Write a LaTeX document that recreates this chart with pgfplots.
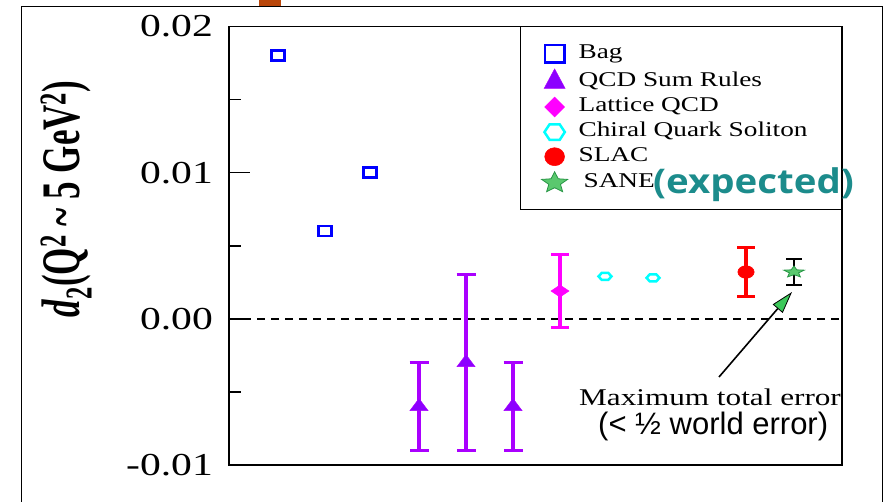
\documentclass[border=0pt]{standalone}
\usepackage{fontspec}
\setmainfont{Liberation Serif}[FakeStretch=1.3]
\newfontfamily\plainserif{Liberation Serif}
\newfontfamily\expfont{Open Sans}[FakeStretch=1.13]
\newfontfamily\sansplain{Liberation Sans}
\usepackage{pgfplots}
\pgfplotsset{compat=1.18}
\usetikzlibrary{arrows.meta}

\definecolor{bagblue}{RGB}{0,0,255}
\definecolor{qcdbar}{RGB}{170,0,255}
\definecolor{qcdfill}{RGB}{140,0,255}
\definecolor{latmag}{RGB}{255,0,255}
\definecolor{chicyan}{RGB}{0,255,255}
\definecolor{slacred}{RGB}{255,0,0}
\definecolor{sanefill}{RGB}{90,200,110}
\definecolor{saneedge}{RGB}{40,150,70}
\definecolor{arrowgreen}{RGB}{60,200,90}
\definecolor{expteal}{RGB}{28,140,140}
\definecolor{brownbar}{RGB}{185,70,10}

\pgfdeclareplotmark{hexa}{%
  \pgfpathmoveto{\pgfqpoint{\pgfplotmarksize}{0pt}}%
  \pgfpathlineto{\pgfqpoint{0.5\pgfplotmarksize}{0.866\pgfplotmarksize}}%
  \pgfpathlineto{\pgfqpoint{-0.5\pgfplotmarksize}{0.866\pgfplotmarksize}}%
  \pgfpathlineto{\pgfqpoint{-\pgfplotmarksize}{0pt}}%
  \pgfpathlineto{\pgfqpoint{-0.5\pgfplotmarksize}{-0.866\pgfplotmarksize}}%
  \pgfpathlineto{\pgfqpoint{0.5\pgfplotmarksize}{-0.866\pgfplotmarksize}}%
  \pgfpathclose\pgfusepathqstroke}

\pgfdeclareplotmark{fstar}{%
  \pgfpathmoveto{\pgfpointpolar{90}{\pgfplotmarksize}}%
  \pgfpathlineto{\pgfpointpolar{126}{0.45\pgfplotmarksize}}%
  \pgfpathlineto{\pgfpointpolar{162}{\pgfplotmarksize}}%
  \pgfpathlineto{\pgfpointpolar{198}{0.45\pgfplotmarksize}}%
  \pgfpathlineto{\pgfpointpolar{234}{\pgfplotmarksize}}%
  \pgfpathlineto{\pgfpointpolar{270}{0.45\pgfplotmarksize}}%
  \pgfpathlineto{\pgfpointpolar{306}{\pgfplotmarksize}}%
  \pgfpathlineto{\pgfpointpolar{342}{0.45\pgfplotmarksize}}%
  \pgfpathlineto{\pgfpointpolar{18}{\pgfplotmarksize}}%
  \pgfpathlineto{\pgfpointpolar{54}{0.45\pgfplotmarksize}}%
  \pgfpathclose\pgfusepathqfillstroke}

\begin{document}
\begin{tikzpicture}[x=1pt,y=1pt]
\useasboundingbox (0,0) rectangle (883,501);
\fill[brownbar] (259,494) rectangle (281,501);
\draw[line width=1pt] (21,-2) -- (21,494) -- (882,494) -- (882,-2);
\begin{axis}[
  at={(229pt,36pt)}, anchor=south west, scale only axis,
  width=613pt, height=438.6pt,
  xmin=0, xmax=613, ymin=-0.01, ymax=0.02,
  xtick=\empty,
  ytick={-0.01,0,0.01,0.02},
  yticklabels={-0.01,0.00,0.01,0.02},
  scaled y ticks=false,
  minor ytick={-0.005,0.005,0.015},
  tick align=inside, ytick pos=left,
  major tick length=21pt, minor tick length=12pt,
  tick style={line width=1.6pt, black},
  axis line style={line width=1.6pt},
  yticklabel style={font=\fontsize{32}{32}\selectfont, inner sep=0pt, xshift=-16pt},
  clip=false,
  only marks,
  legend style={at={(1,1)}, anchor=north east, draw=black, line width=0.8pt, fill=white,
    inner xsep=21pt, inner ysep=17.5pt, row sep=5.6pt, column sep=11pt,
    font=\fontsize{21}{21}\selectfont,
    nodes={inner sep=0pt, text height=14pt, text depth=5pt}},
  legend cell align=left,
]
\addplot[sharp plot, mark=none, black, line width=1.5pt, dash pattern=on 7.5pt off 6.5pt, forget plot]
  coordinates {(0,0) (613,0)};

\addplot[mark=square, mark size=5pt, mark options={draw=bagblue, line width=2.6pt, xscale=1.3},
  legend image code/.code={\draw[mark=square, mark size=8.7pt, mark options={draw=bagblue, line width=2.6pt, xscale=1.11}] plot coordinates {(0pt,0pt)};}]
  coordinates {(49,0.018) (96,0.006) (141,0.010)};
\addlegendentry{Bag}

\addplot[color=qcdbar, line width=3.2pt,
  mark=triangle*, mark size=8pt, mark options={fill=qcdfill, draw=qcdbar, line width=0.5pt, xscale=1.3},
  legend image code/.code={\draw[mark=triangle*, mark size=13pt, mark options={fill=qcdfill, draw=qcdbar, line width=0.5pt, xscale=0.93}] plot coordinates {(0pt,0pt)};},
  error bars/.cd, y dir=both, y explicit,
  error bar style={color=qcdbar, line width=3.2pt},
  error mark options={rotate=90, color=qcdbar, line width=3pt, mark size=9.5pt}]
  coordinates {(190,-0.006) +- (0,0.003) (237,-0.003) +- (0,0.006) (284,-0.006) +- (0,0.003)};
\addlegendentry{QCD Sum Rules}

\addplot[color=latmag, line width=3.2pt,
  mark=diamond*, mark size=6pt, mark options={fill=latmag, draw=latmag, line width=0.5pt, xscale=2},
  legend image code/.code={\draw[mark=diamond*, mark size=10pt, mark options={fill=latmag, draw=latmag, line width=0.5pt, xscale=1.33}] plot coordinates {(0pt,0pt)};},
  error bars/.cd, y dir=both, y explicit,
  error bar style={color=latmag, line width=3.2pt},
  error mark options={rotate=90, color=latmag, line width=3pt, mark size=9pt}]
  coordinates {(331,0.0019) +- (0,0.0025)};
\addlegendentry{Lattice QCD}

\addplot[mark=hexa, mark size=6.5pt, mark options={draw=chicyan, line width=2.5pt, yscale=0.62},
  legend image code/.code={\draw[mark=hexa, mark size=10.2pt, mark options={draw=chicyan, line width=2.5pt, yscale=0.87}] plot coordinates {(0pt,0pt)};}]
  coordinates {(376,0.0029) (424,0.0028)};
\addlegendentry{Chiral Quark Soliton\hspace*{13pt}}

\addplot[color=slacred, line width=3.2pt,
  mark=*, mark size=6.3pt, mark options={fill=slacred, draw=slacred, line width=0.5pt, xscale=1.3},
  legend image code/.code={\draw[mark=*, mark size=9pt, mark options={fill=slacred, draw=slacred, line width=0.5pt, xscale=1.1}] plot coordinates {(0pt,0pt)};},
  error bars/.cd, y dir=both, y explicit,
  error bar style={color=slacred, line width=3.2pt},
  error mark options={rotate=90, color=slacred, line width=3pt, mark size=9pt}]
  coordinates {(517,0.0032) +- (0,0.0017)};
\addlegendentry{SLAC}

\addplot[color=black, line width=1.6pt,
  mark=fstar, mark size=6pt, mark options={fill=sanefill, draw=saneedge, line width=0.8pt, xscale=1.8},
  legend image code/.code={\draw[mark=fstar, mark size=11pt, mark options={fill=sanefill, draw=saneedge, line width=0.8pt, xscale=1.24}] plot coordinates {(0pt,0pt)};},
  error bars/.cd, y dir=both, y explicit,
  error bar style={color=black, line width=1.6pt},
  error mark options={rotate=90, color=black, line width=1.6pt, mark size=8pt}]
  coordinates {(565,0.0032) +- (0,0.0009)};
\addlegendentry{\hspace*{5pt}SANE}
\end{axis}

\draw[line width=1.6pt, -{Triangle[length=22pt, width=13pt, fill=arrowgreen, line width=0.8pt]}] (719,124) -- (792,209);

\begin{scope}
\clip (0,0) rectangle (841.5,501);
\node[anchor=base west, inner sep=0pt, font=\fontsize{24}{24}\selectfont] at (579,96) {Maximum total error};
\end{scope}

\node[anchor=base west, inner sep=0pt, font=\sansplain\fontsize{31}{31}\selectfont] at (598,67) {(< ½ world error)};

\node[anchor=west, inner sep=0pt, text=expteal, font=\expfont\bfseries\fontsize{34}{34}\selectfont] at (653,316.5) {(expected)};

\node[rotate=90, yscale=1.55, inner sep=0pt, font=\plainserif\bfseries\fontsize{35}{35}\selectfont] at (66,302)
  {\textit{d}\textsubscript{2}(Q\textsuperscript{2} \textasciitilde{} 5 GeV\textsuperscript{2})};
\end{tikzpicture}
\end{document}
